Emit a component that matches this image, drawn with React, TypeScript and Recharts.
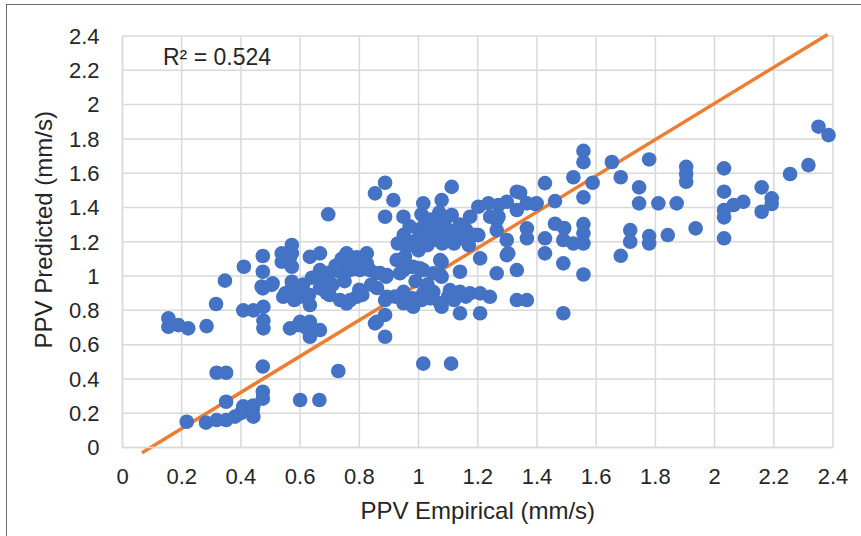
import React from 'react'
import {
  ScatterChart, Scatter, XAxis, YAxis, CartesianGrid, ReferenceLine, Label, Customized
} from 'recharts'

type Pt = [number, number]

// PPV empirical (x) vs predicted (y), mm/s
const lowPoints: Pt[] = [
  [0.217, 0.15], [0.282, 0.145], [0.318, 0.16], [0.35, 0.16], [0.38, 0.18], [0.40, 0.20],
  [0.408, 0.24], [0.442, 0.18], [0.44, 0.22], [0.442, 0.245], [0.474, 0.325], [0.474, 0.285],
  [0.35, 0.267], [0.318, 0.436], [0.35, 0.436], [0.474, 0.472], [0.60, 0.277], [0.665, 0.277],
  [0.729, 0.446], [1.016, 0.489], [1.11, 0.489],
]

const leftBand: Pt[] = [
  [0.155, 0.753], [0.155, 0.704], [0.189, 0.714], [0.222, 0.695], [0.284, 0.708], [0.316, 0.837],
  [0.408, 0.80], [0.442, 0.80], [0.476, 0.82], [0.476, 0.74], [0.476, 0.695], [0.566, 0.695],
  [0.594, 0.714], [0.60, 0.733], [0.633, 0.733], [0.667, 0.685], [0.633, 0.646], [0.62, 0.70],
  [0.853, 0.724], [0.887, 0.773], [0.887, 0.646], [0.859, 0.733],
  [0.346, 0.973], [0.41, 1.054], [0.474, 1.117], [0.474, 1.025], [0.474, 0.928], [0.507, 0.957],
  [0.538, 1.132], [0.538, 1.083], [0.572, 1.181], [0.572, 1.132], [0.572, 1.054], [0.566, 1.112],
  [0.572, 0.967], [0.543, 0.879], [0.47, 0.938], [0.504, 0.948], [0.572, 0.928], [0.55, 0.90],
  [0.58, 0.86], [0.60, 0.879], [0.633, 0.831], [0.61, 0.95], [0.63, 0.89],
]

const midCluster: Pt[] = [
  [0.633, 1.112], [0.667, 1.132], [0.757, 1.132], [0.791, 1.109], [0.825, 1.132], [0.74, 1.10],
  [0.667, 1.035], [0.70, 1.02], [0.735, 1.025], [0.769, 1.035], [0.802, 1.035], [0.836, 1.035],
  [0.87, 1.017], [0.89, 0.996], [0.757, 1.074], [0.802, 1.074], [0.825, 1.074], [0.859, 1.016],
  [0.893, 1.006], [0.72, 1.06], [0.667, 0.928], [0.70, 0.889], [0.735, 0.86], [0.769, 0.86],
  [0.791, 0.879], [0.757, 0.84], [0.68, 0.97], [0.71, 0.95], [0.75, 0.97],
  [0.80, 0.92], [0.84, 0.95], [0.69, 0.90],
  [0.81, 0.89], [0.86, 0.93], [0.64, 0.99], [0.893, 0.879],
  [0.887, 0.86], [0.695, 1.36],
]

const coreCluster: Pt[] = [
  [0.887, 1.544], [0.853, 1.482], [0.915, 1.443], [0.887, 1.346], [0.949, 1.346], [1.016, 1.424],
  [1.078, 1.443], [1.112, 1.52], [1.112, 1.356], [1.01, 1.36], [1.04, 1.33], [1.07, 1.37],
  [1.174, 1.346], [1.202, 1.404], [1.236, 1.424], [1.27, 1.414], [1.298, 1.433], [1.332, 1.492],
  [1.366, 1.424], [1.399, 1.424], [1.332, 1.385], [1.264, 1.327], [1.27, 1.346], [1.242, 1.346],
  [1.366, 1.278], [1.366, 1.22], [1.298, 1.21], [1.298, 1.122], [1.208, 1.103], [1.202, 1.239],
  [1.264, 1.268], [1.303, 1.132], [0.95, 1.24], [0.98, 1.20], [1.0, 1.27], [1.0, 1.22],
  [1.02, 1.30], [1.03, 1.25], [1.03, 1.18], [1.05, 1.32], [1.05, 1.26], [1.05, 1.21],
  [1.07, 1.29], [1.07, 1.24], [1.08, 1.19], [1.09, 1.33], [1.10, 1.27], [1.10, 1.22],
  [1.12, 1.25], [1.12, 1.19], [1.14, 1.30], [1.15, 1.22], [1.16, 1.27], [1.17, 1.18],
  [1.19, 1.24], [0.97, 1.29], [0.93, 1.19], [0.96, 1.17], [1.0, 1.15],
]

const lowerCore: Pt[] = [
  [0.926, 1.093], [0.954, 1.113], [0.971, 1.054], [0.937, 1.016], [1.005, 1.045], [1.05, 1.016],
  [1.078, 1.083], [1.078, 0.996], [1.14, 1.025], [1.264, 1.016], [1.332, 1.035], [0.949, 1.103],
  [0.949, 1.035], [0.982, 1.054], [1.016, 1.035], [1.073, 1.093], [1.073, 1.006], [0.99, 0.97],
  [1.03, 0.95], [0.949, 0.908], [0.949, 0.841], [0.982, 0.821], [1.016, 0.899], [1.05, 0.908],
  [1.073, 0.841], [1.106, 0.918], [1.14, 0.908], [1.14, 0.783], [1.174, 0.899], [1.208, 0.899],
  [1.208, 0.783], [1.241, 0.879], [1.332, 0.86], [1.366, 0.86], [1.078, 0.821], [0.92, 0.88],
  [0.98, 0.87], [1.01, 0.86], [1.04, 0.87], [1.10, 0.88], [1.12, 0.86], [1.16, 0.88],
]

const rightTail: Pt[] = [
  [2.351, 1.871], [2.385, 1.822], [2.317, 1.647], [2.255, 1.595], [2.159, 1.517], [2.193, 1.453],
  [2.193, 1.42], [2.159, 1.375], [2.097, 1.433], [2.064, 1.414], [2.032, 1.628], [2.032, 1.492],
  [2.032, 1.385], [2.032, 1.342], [2.032, 1.22], [1.936, 1.278], [1.904, 1.637], [1.904, 1.595],
  [1.904, 1.55], [1.872, 1.424], [1.842, 1.239], [1.81, 1.424], [1.779, 1.68], [1.779, 1.233],
  [1.779, 1.19], [1.745, 1.517], [1.745, 1.424], [1.715, 1.268], [1.715, 1.2], [1.683, 1.576],
  [1.683, 1.118], [1.653, 1.665], [1.588, 1.544], [1.557, 1.73], [1.557, 1.664], [1.523, 1.576],
  [1.557, 1.459], [1.557, 1.303], [1.557, 1.25], [1.557, 1.19], [1.557, 1.009], [1.523, 1.19],
  [1.489, 1.074], [1.489, 0.783], [1.461, 1.437], [1.427, 1.542], [1.461, 1.305], [1.492, 1.28],
  [1.489, 1.21], [1.427, 1.22], [1.427, 1.132], [1.394, 1.42], [1.343, 1.486],
]

const ticks = [0, 0.2, 0.4, 0.6, 0.8, 1, 1.2, 1.4, 1.6, 1.8, 2, 2.2, 2.4]
const fitLine = [{ x: 0.066, y: -0.03 }, { x: 2.382, y: 2.409 }]
const r2Text = 'R² = 0.524'

const points = [...lowPoints, ...leftBand, ...midCluster, ...coreCluster, ...lowerCore, ...rightTail]
  .map(([x, y]) => ({ x, y }))

const font = '"Liberation Sans", Arial, sans-serif'
const tickStyle = { fill: '#262626', fontSize: 22, fontFamily: font }

const Dot = (props: any) => <circle cx={props.cx} cy={props.cy} r={7.3} fill="#4472C4" />

export default function App() {
  return (
    <div style={{ position: 'absolute', left: 0, top: 0, width: 861, height: 536, overflow: 'hidden', background: '#fff' }}>
      <div style={{ position: 'absolute', left: 6, top: 4, width: 900, height: 600, border: '1.5px solid #6b6b6b' }} />
      <div style={{ position: 'absolute', left: 0, top: 0 }}>
        <ScatterChart width={861} height={536} margin={{ top: 36, right: 28, left: 0, bottom: 8.5 }}>
          <CartesianGrid stroke="#d9d9d9" strokeWidth={1.5} />
          <XAxis type="number" dataKey="x" domain={[0, 2.4]} ticks={ticks} height={80}
            tick={tickStyle} tickLine={false} axisLine={{ stroke: '#d9d9d9', strokeWidth: 1.5 }}
            tickSize={6} tickMargin={14.5} interval={0}>
            <Label value="PPV Empirical (mm/s)" position="insideBottom" offset={8.5}
              style={{ fill: '#262626', fontSize: 24, fontFamily: font }} />
          </XAxis>
          <YAxis type="number" dataKey="y" domain={[0, 2.4]} ticks={ticks} width={122.5}
            tick={tickStyle} tickLine={false} axisLine={{ stroke: '#d9d9d9', strokeWidth: 1.5 }}
            tickSize={6} tickMargin={17} interval={0}>
            <Label content={({ viewBox }: any) => {
              const cx = viewBox.x + 52
              const cy = viewBox.y + viewBox.height / 2 - 12
              return (
                <text x={cx} y={cy} transform={`rotate(-90, ${cx}, ${cy})`} textAnchor="middle"
                  fill="#262626" fontSize={24} fontFamily={font}>PPV Predicted (mm/s)</text>
              )
            }} />
          </YAxis>
          <Scatter data={points} shape={Dot} isAnimationActive={false} />
          <ReferenceLine segment={fitLine} stroke="#ED7D31" strokeWidth={3.5} ifOverflow="visible" />
          <Customized component={() => (
            <text x={163} y={65} fill="#262626" fontSize={23} fontFamily={font}>{r2Text}</text>
          )} />
        </ScatterChart>
      </div>
    </div>
  )
}
